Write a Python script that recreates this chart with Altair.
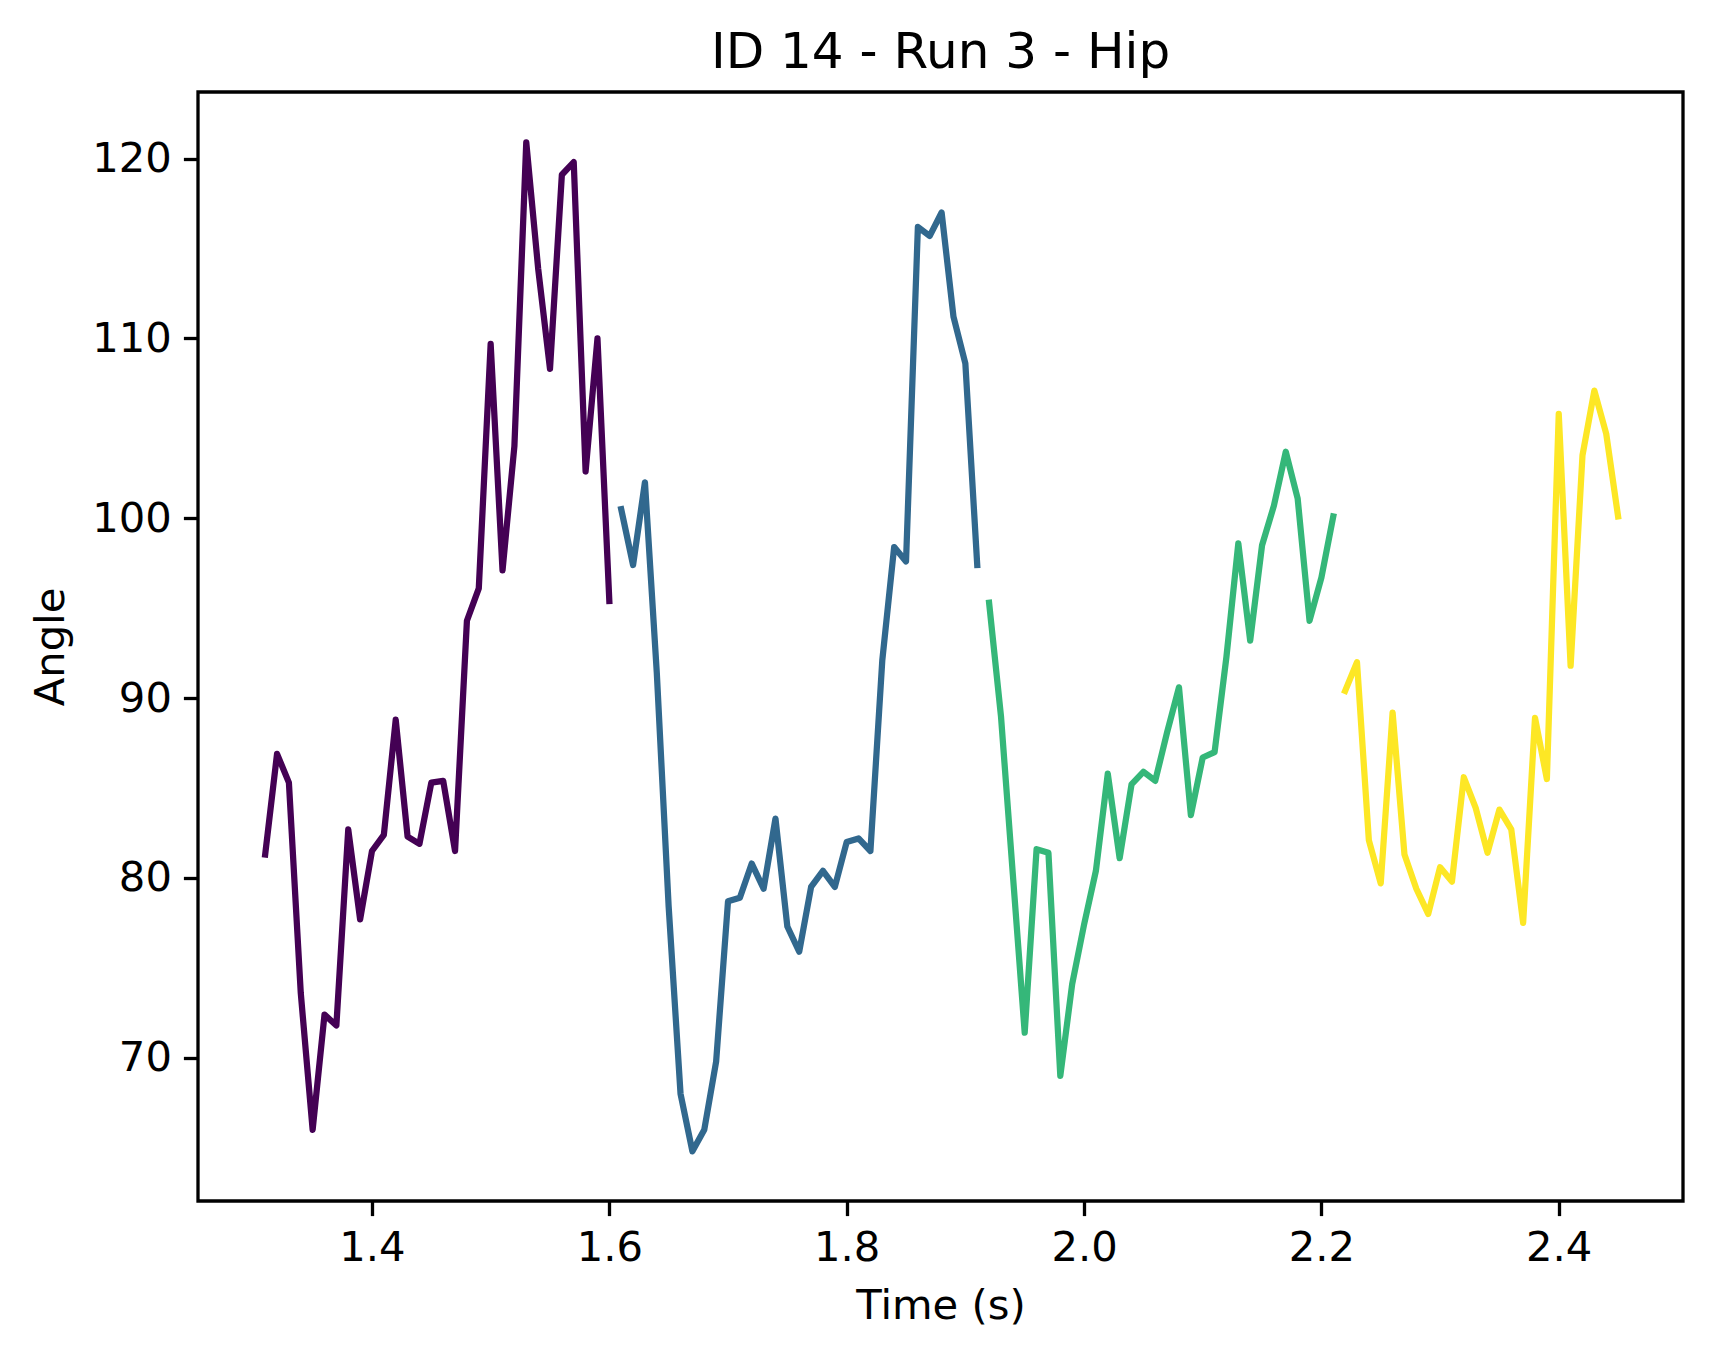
import pandas as pd
import altair as alt

# Hip angle over time, split into four phases
t_1 = [1.31, 1.32, 1.33, 1.34, 1.35, 1.36, 1.37, 1.38, 1.39, 1.40,
       1.41, 1.42, 1.43, 1.44, 1.45, 1.46, 1.47, 1.48, 1.49, 1.50,
       1.51, 1.52, 1.53, 1.54, 1.55, 1.56, 1.57, 1.58, 1.59, 1.60]
angle_1 = [81.3, 86.9, 85.3, 73.6, 66.0, 72.4, 71.8, 82.7, 77.7, 81.5,
           82.4, 88.8, 82.3, 81.9, 85.3, 85.4, 81.5, 94.3, 96.1, 109.7,
           97.1, 104.0, 120.9, 113.9, 108.3, 119.1, 119.8, 102.6, 110.0, 95.4]

t_2 = [1.61, 1.62, 1.63, 1.64, 1.65, 1.66, 1.67, 1.68, 1.69, 1.70,
       1.71, 1.72, 1.73, 1.74, 1.75, 1.76, 1.77, 1.78, 1.79, 1.80,
       1.81, 1.82, 1.83, 1.84, 1.85, 1.86, 1.87, 1.88, 1.89, 1.90, 1.91]
angle_2 = [100.5, 97.4, 102.0, 91.4, 78.4, 68.0, 64.8, 66.0, 69.8, 78.7,
           78.9, 80.8, 79.4, 83.3, 77.3, 75.9, 79.5, 80.4, 79.5, 82.0,
           82.2, 81.5, 92.1, 98.4, 97.6, 116.2, 115.7, 117.0, 111.2, 108.6, 97.4]

t_3 = [1.92, 1.93, 1.94, 1.95, 1.96, 1.97, 1.98, 1.99, 2.00, 2.01,
       2.02, 2.03, 2.04, 2.05, 2.06, 2.07, 2.08, 2.09, 2.10, 2.11,
       2.12, 2.13, 2.14, 2.15, 2.16, 2.17, 2.18, 2.19, 2.20, 2.21]
angle_3 = [95.3, 89.0, 80.2, 71.4, 81.6, 81.4, 69.0, 74.1, 77.4, 80.4,
           85.8, 81.1, 85.2, 85.9, 85.4, 88.1, 90.6, 83.5, 86.7, 87.0,
           92.3, 98.6, 93.2, 98.5, 100.7, 103.7, 101.1, 94.3, 96.7, 100.1]

t_4 = [2.22, 2.23, 2.24, 2.25, 2.26, 2.27, 2.28, 2.29, 2.30, 2.31,
       2.32, 2.33, 2.34, 2.35, 2.36, 2.37, 2.38, 2.39, 2.40, 2.41,
       2.42, 2.43, 2.44, 2.45]
angle_4 = [90.4, 92.0, 82.1, 79.7, 89.2, 81.3, 79.4, 78.0, 80.6, 79.8,
           85.6, 83.9, 81.4, 83.8, 82.7, 77.5, 88.9, 85.5, 105.8, 91.8,
           103.5, 107.1, 104.7, 100.1]

segments = ['s1', 's2', 's3', 's4']
colors = ['#440154', '#31688e', '#35b779', '#fde725']

frames = []
for seg, t, a in zip(segments, [t_1, t_2, t_3, t_4], [angle_1, angle_2, angle_3, angle_4]):
    frames.append(pd.DataFrame({'time': t, 'angle': a, 'segment': seg}))
df = pd.concat(frames, ignore_index=True)

FONT = 'DejaVu Sans'

chart = alt.Chart(df).mark_line(
    strokeWidth=6.25, strokeCap='square', strokeJoin='round', clip=True
).encode(
    x=alt.X('time:Q', title='Time (s)',
            scale=alt.Scale(domain=[1.2534, 2.5047], nice=False, zero=False),
            axis=alt.Axis(values=[1.4, 1.6, 1.8, 2.0, 2.2, 2.4], format='.1f')),
    y=alt.Y('angle:Q', title='Angle',
            scale=alt.Scale(domain=[62.04, 123.70], nice=False, zero=False),
            axis=alt.Axis(values=[70, 80, 90, 100, 110, 120])),
    color=alt.Color('segment:N', scale=alt.Scale(domain=segments, range=colors), legend=None),
    detail='segment:N',
).properties(
    width=1485,
    height=1109,
    title=alt.TitleParams('ID 14 - Run 3 - Hip', fontSize=50, font=FONT,
                          fontWeight='normal', color='black', offset=14),
    autosize=alt.AutoSizeParams(type='none'),
    padding={'left': 190, 'top': 84, 'right': 20, 'bottom': 160},
).configure_view(
    stroke='black', strokeWidth=3.3
).configure_axis(
    grid=False,
    domain=False,
    ticks=True,
    tickColor='black',
    tickWidth=3.3,
    tickSize=14.6,
    labelFont=FONT,
    labelFontSize=41.7,
    labelColor='black',
    labelPadding=12,
    titleFont=FONT,
    titleFontSize=41.7,
    titleFontWeight='normal',
    titleColor='black',
    titlePadding=16,
).configure_axisY(
    labelPadding=12,
    titlePadding=19,
)

chart.save("out.html", embed_options={"renderer": "svg", "actions": False})
